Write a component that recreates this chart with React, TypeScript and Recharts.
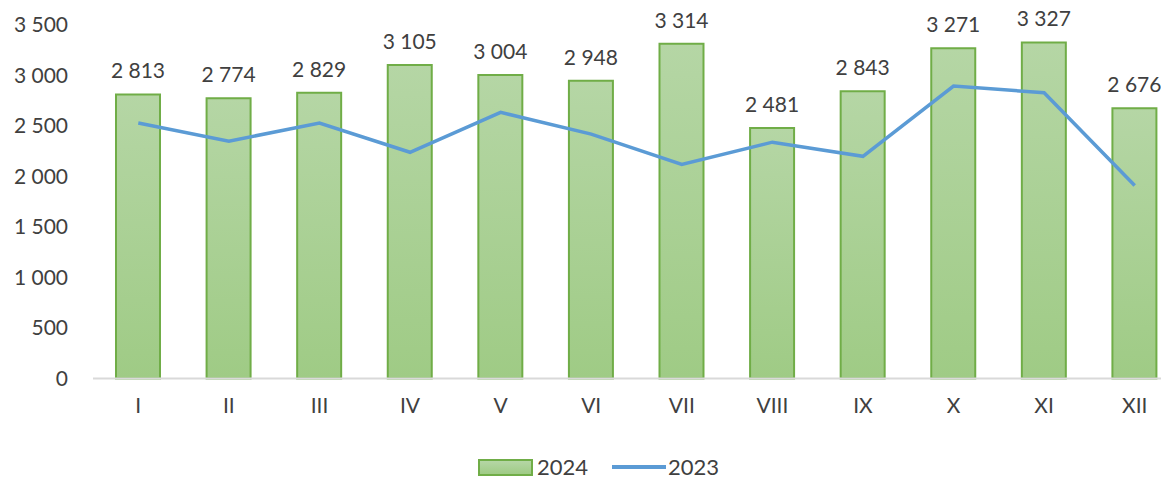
import React from 'react';
import { ComposedChart, Bar, Line, XAxis, YAxis, LabelList, Legend } from 'recharts';

const months = ['I', 'II', 'III', 'IV', 'V', 'VI', 'VII', 'VIII', 'IX', 'X', 'XI', 'XII'];
const values2024 = [2813, 2774, 2829, 3105, 3004, 2948, 3314, 2481, 2843, 3271, 3327, 2676];
const values2023 = [2530, 2350, 2530, 2240, 2635, 2420, 2120, 2340, 2200, 2895, 2830, 1910];
const yTicks = [0, 500, 1000, 1500, 2000, 2500, 3000, 3500];

const data = months.map((m, i) => ({ month: m, y2024: values2024[i], y2023: values2023[i] }));

const FONT = 'Lato, "Open Sans", sans-serif';
const TEXT = '#404040';
const BAR_EDGE = '#70ad47';
const LINE_COLOR = '#5b9bd5';

const fmt = (v: number) => String(v).replace(/\B(?=(\d{3})+(?!\d))/g, ' ');

const renderLegend = () => (
    <div style={{ display: 'flex', justifyContent: 'flex-start', alignItems: 'center', fontFamily: FONT, fontSize: 22, lineHeight: 1, color: TEXT, height: 30, boxSizing: 'border-box', paddingLeft: 478, paddingTop: 4 }}>
        <span style={{ display: 'inline-block', width: 51, height: 13, background: 'linear-gradient(#b5d6a5, #9fcb85)', border: `2px solid ${BAR_EDGE}`, marginRight: 4 }} />
        <span style={{ marginRight: 24 }}>2024</span>
        <span style={{ display: 'inline-block', width: 54, height: 3.5, background: LINE_COLOR, marginRight: 2 }} />
        <span>2023</span>
    </div>
);

const App = () => {
    return (
        <div style={{ position: 'fixed', left: 0, top: 0, width: 1161, height: 480, overflow: 'hidden', background: '#fff' }}>
            <ComposedChart width={1180} height={480} data={data} margin={{ top: 25, right: 0, left: 0, bottom: 0 }}>
                <defs>
                    <linearGradient id="barFill" x1="0" y1="0" x2="0" y2="1">
                        <stop offset="0%" stopColor="#b5d6a5" />
                        <stop offset="100%" stopColor="#9fcb85" />
                    </linearGradient>
                </defs>
                <XAxis
                    dataKey="month"
                    height={71.5}
                    tickLine={false}
                    axisLine={{ stroke: '#d9d9d9', strokeWidth: 2 }}
                    tick={{ fill: TEXT, fontSize: 21, fontFamily: FONT }}
                    tickMargin={14}
                    interval={0}
                />
                <YAxis
                    width={93}
                    domain={[0, 3500]}
                    ticks={yTicks}
                    axisLine={false}
                    tickLine={false}
                    tickMargin={19}
                    tickFormatter={fmt}
                    tick={{ fill: TEXT, fontSize: 21, fontFamily: FONT }}
                    interval={0}
                />
                <Legend verticalAlign="bottom" content={renderLegend} wrapperStyle={{ height: 30, width: 1161 }} />
                <Bar dataKey="y2024" name="2024" barSize={44} fill="url(#barFill)" stroke={BAR_EDGE} strokeWidth={2} isAnimationActive={false}>
                    <LabelList dataKey="y2024" position="top" offset={16} formatter={(v: any) => fmt(Number(v))} fill={TEXT} fontSize={21} fontFamily={FONT} />
                </Bar>
                <Line dataKey="y2023" name="2023" type="linear" stroke={LINE_COLOR} strokeWidth={3.5} dot={false} isAnimationActive={false} />
            </ComposedChart>
        </div>
    );
};

export default App;
